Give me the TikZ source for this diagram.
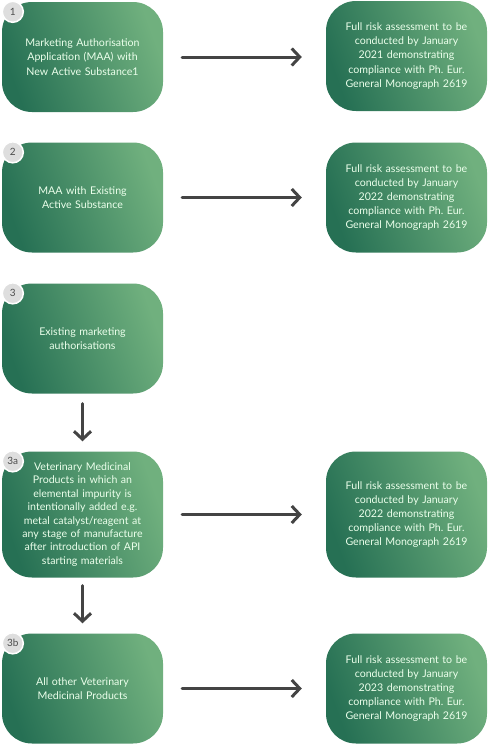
\documentclass[tikz,border=0pt]{standalone}
\usepackage{fontspec}
\setmainfont{Lato}
\frenchspacing
\usetikzlibrary{arrows.meta}
\definecolor{boxdark}{RGB}{38,112,84}
\definecolor{boxlight}{RGB}{112,176,126}
\definecolor{arrowgray}{RGB}{68,68,68}
\definecolor{badgegray}{RGB}{222,222,222}
\tikzset{
  stage/.style={rounded corners=30pt, minimum width=161pt, minimum height=110pt,
    left color=boxdark, right color=boxlight, shading angle=110,
    text=white!92!green, align=center, text width=150pt,
    font=\fontsize{10.6}{14.2}\selectfont},
  badge/.style={circle, draw=white, line width=1.5pt, fill=badgegray,
    minimum size=21pt, inner sep=0pt, text=black!70,
    font=\fontsize{10}{10}\selectfont},
  flow/.style={arrowgray, line width=3pt, line cap=round,
    -{Straight Barb[length=8pt, width=17pt, line width=3pt]}}
}
\begin{document}
\begin{tikzpicture}[x=1pt, y=-1pt]
    \useasboundingbox (0,0) rectangle (488,745);
    % left column
    \node[stage] (m1) at (82.5,57) {Marketing Authorisation\\Application (MAA) with\\New Active Substance1};
    \node[stage] (m2) at (82.5,197.5) {MAA with Existing\\Active Substance};
    \node[stage] (m3) at (82.5,338.5) {Existing marketing\\authorisations};
    \node[stage, minimum height=126pt, font=\fontsize{10.6}{13.4}\selectfont] (m3a) at (82.5,514.5) {Veterinary Medicinal\\Products in which an\\elemental impurity is\\intentionally added e.g.\\metal catalyst/reagent at\\any stage of manufacture\\after introduction of API\\starting materials};
    \node[stage] (m3b) at (82.5,688.5) {All other Veterinary\\Medicinal Products};
    % right column
    \node[stage] (r1) at (406.5,56) {Full risk assessment to be\\conducted by January\\2021 demonstrating\\compliance with Ph. Eur.\\General Monograph 2619};
    \node[stage] (r2) at (406.5,197.5) {Full risk assessment to be\\conducted by January\\2022 demonstrating\\compliance with Ph. Eur.\\General Monograph 2619};
    \node[stage, minimum height=126pt] (r3a) at (406.5,514.5) {Full risk assessment to be\\conducted by January\\2022 demonstrating\\compliance with Ph. Eur.\\General Monograph 2619};
    \node[stage] (r3b) at (406.5,688.5) {Full risk assessment to be\\conducted by January\\2023 demonstrating\\compliance with Ph. Eur.\\General Monograph 2619};
    % numbers
    \node[badge] (b1) at ([shift={(11,10)}]m1.north west) {1};
    \node[badge] (b2) at ([shift={(11,10)}]m2.north west) {2};
    \node[badge] (b3) at ([shift={(11,10)}]m3.north west) {3};
    \node[badge] (b3a) at ([shift={(11,10)}]m3a.north west) {3a};
    \node[badge] (b3b) at ([shift={(11,10)}]m3b.north west) {3b};
    % arrows
    \draw[flow, shorten <=19pt, shorten >=24pt] (m1.east) -- (r1.west |- m1.east);
    \draw[flow, shorten <=19pt, shorten >=24pt] (m2.east) -- (r2.west);
    \draw[flow, shorten <=19pt, shorten >=24pt] (m3a.east) -- (r3a.west |- m3a.east);
    \draw[flow, shorten <=19pt, shorten >=24pt] (m3b.east) -- (r3b.west);
    \draw[flow, shorten <=10pt, shorten >=10pt] (m3.south) -- (m3a.north);
    \draw[flow, shorten <=8pt, shorten >=10pt] (m3a.south) -- (m3b.north);
\end{tikzpicture}
\end{document}
